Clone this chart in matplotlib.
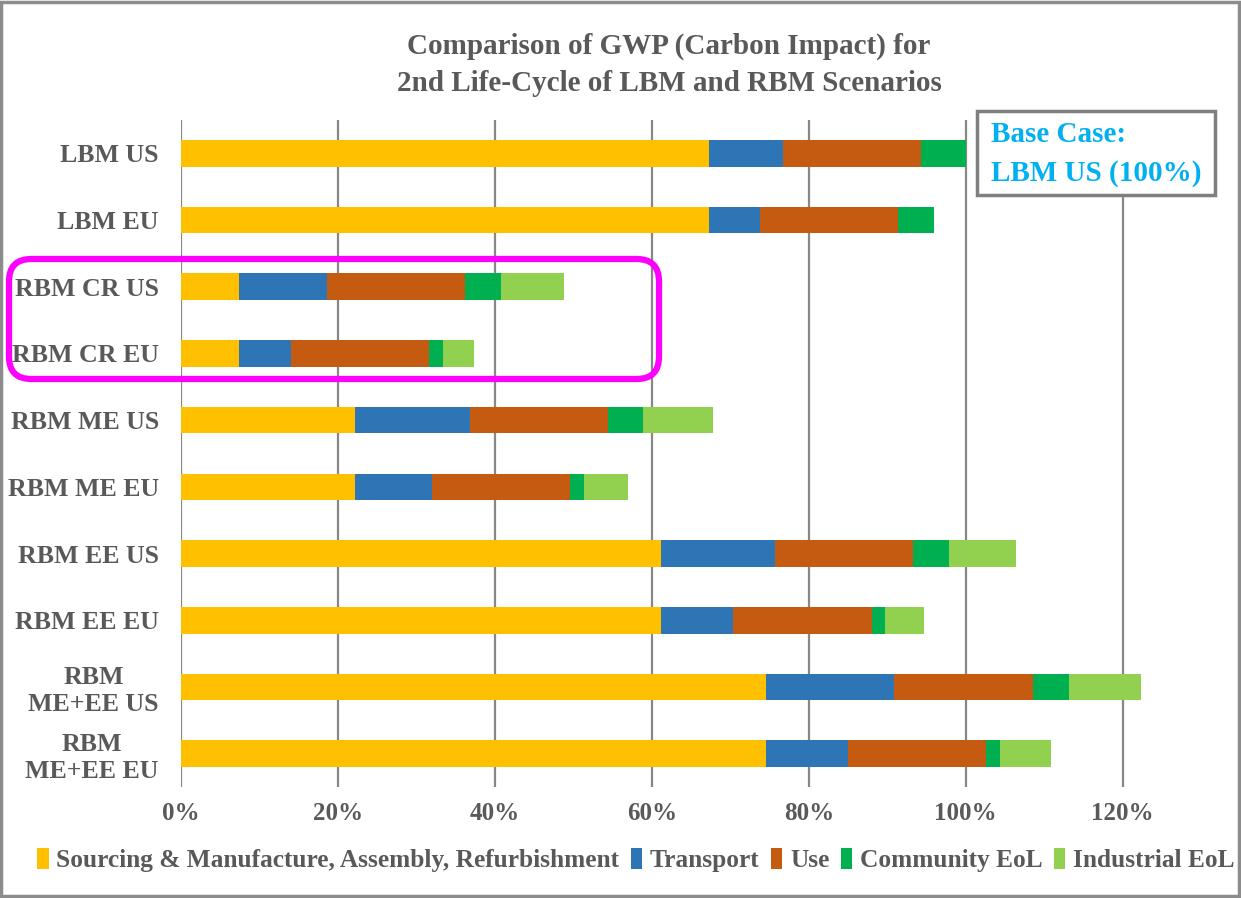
import matplotlib
matplotlib.use("Agg")
import matplotlib.pyplot as plt
import numpy as np
from matplotlib.patches import FancyBboxPatch, Rectangle
from matplotlib.ticker import PercentFormatter

categories = ["LBM US", "LBM EU", "RBM CR US", "RBM CR EU", "RBM ME US", "RBM ME EU",
              "RBM EE US", "RBM EE EU", "RBM\nME+EE US", "RBM\nME+EE EU"]
series_names = ["Sourcing & Manufacture, Assembly, Refurbishment", "Transport", "Use",
                "Community EoL", "Industrial EoL"]
sourcing = [67.3, 67.3, 7.4, 7.4, 22.2, 22.2, 61.1, 61.1, 74.6, 74.6]
transport = [9.4, 6.5, 11.2, 6.6, 14.6, 9.8, 14.6, 9.2, 16.3, 10.4]
use = [17.6, 17.5, 17.6, 17.6, 17.6, 17.6, 17.6, 17.7, 17.6, 17.6]
community_eol = [5.7, 4.7, 4.6, 1.8, 4.5, 1.8, 4.6, 1.7, 4.6, 1.8]
industrial_eol = [0.0, 0.0, 8.0, 3.9, 8.9, 5.6, 8.5, 5.0, 9.2, 6.5]
colors = ["#FFC000", "#2E75B6", "#C55A11", "#00B050", "#92D050"]
xticks = [0, 20, 40, 60, 80, 100, 120]

title = "Comparison of GWP (Carbon Impact) for\n2nd Life-Cycle of LBM and RBM Scenarios"
textcol = "#595959"
serif = ["Liberation Serif", "DejaVu Serif"]

fig = plt.figure(figsize=(12.41, 8.98), dpi=100)
W, H = 1241, 898
ax = fig.add_axes([181 / W, 1 - 787 / H, (1162 - 181) / W, (787 - 120) / H])

series = [sourcing, transport, use, community_eol, industrial_eol]
y = np.arange(len(categories))
left = np.zeros(len(categories))
for name, vals, c in zip(series_names, series, colors):
    v = np.array(vals) / 100.0
    ax.barh(y, v, left=left, height=0.4, color=c, label=name, zorder=3)
    left += v

ax.set_ylim(len(categories) - 0.5, -0.5)
ax.set_xlim(0, 1.25)
ax.set_xticks(np.array(xticks) / 100.0)
ax.xaxis.set_major_formatter(PercentFormatter(1.0, decimals=0))
ax.grid(axis="x", color="#878787", linewidth=1.6, zorder=0)
for s in ax.spines.values():
    s.set_visible(False)
ax.tick_params(axis="both", length=0)
ax.tick_params(axis="x", pad=11)
ax.tick_params(axis="y", pad=16)
ax.set_yticks(y)
ax.set_yticklabels(categories, fontfamily=serif, fontweight="bold", fontsize=18.6,
                   color=textcol, multialignment="center", linespacing=1.2)
for lab in ax.get_xticklabels():
    lab.set_fontfamily(serif)
    lab.set_fontweight("bold")
    lab.set_fontsize(18)
    lab.set_color(textcol)

fig.text(0.5 + (669 - 620.5) / W, 1 - 65 / H, title, ha="center", va="center",
         fontfamily=serif, fontweight="bold", fontsize=21, color=textcol,
         linespacing=1.5)

# Base case box
fig.patches.append(Rectangle((977 / W, 1 - 195 / H), (1215 - 977) / W, (195 - 111) / H,
                             transform=fig.transFigure, facecolor="white",
                             edgecolor="#7F7F7F", linewidth=2.5, zorder=5))
fig.text(991 / W, 1 - 154 / H, "Base Case:\nLBM US (100%)", ha="left", va="center",
         fontfamily=serif, fontweight="bold", fontsize=21, color="#00B0F0",
         linespacing=1.55, zorder=6)

# Highlight box
fig.patches.append(FancyBboxPatch((9 / W, 1 - 379 / H), (659 - 9) / W, (379 - 259) / H,
                                  boxstyle="round,pad=0,rounding_size=0.018",
                                  transform=fig.transFigure, facecolor="none",
                                  edgecolor="#FF00FF", linewidth=4.5, zorder=7,
                                  mutation_aspect=W / H))

# Outer border
fig.patches.append(Rectangle((0.001, 0.002), 0.997, 0.996, transform=fig.transFigure,
                             facecolor="none", edgecolor="#8C8C8C", linewidth=2.5))

handles, labels = ax.get_legend_handles_labels()
leg = fig.legend(handles, labels, loc="center", bbox_to_anchor=(0.5 + (636 - 620.5) / W, 1 - 860 / H),
                 ncol=5, frameon=False, handlelength=0.45, handleheight=0.9,
                 handletextpad=0.3, columnspacing=0.45,
                 prop={"family": serif, "weight": "bold", "size": 18.3})
for t in leg.get_texts():
    t.set_color(textcol)

fig.savefig("out.png", dpi=100)
